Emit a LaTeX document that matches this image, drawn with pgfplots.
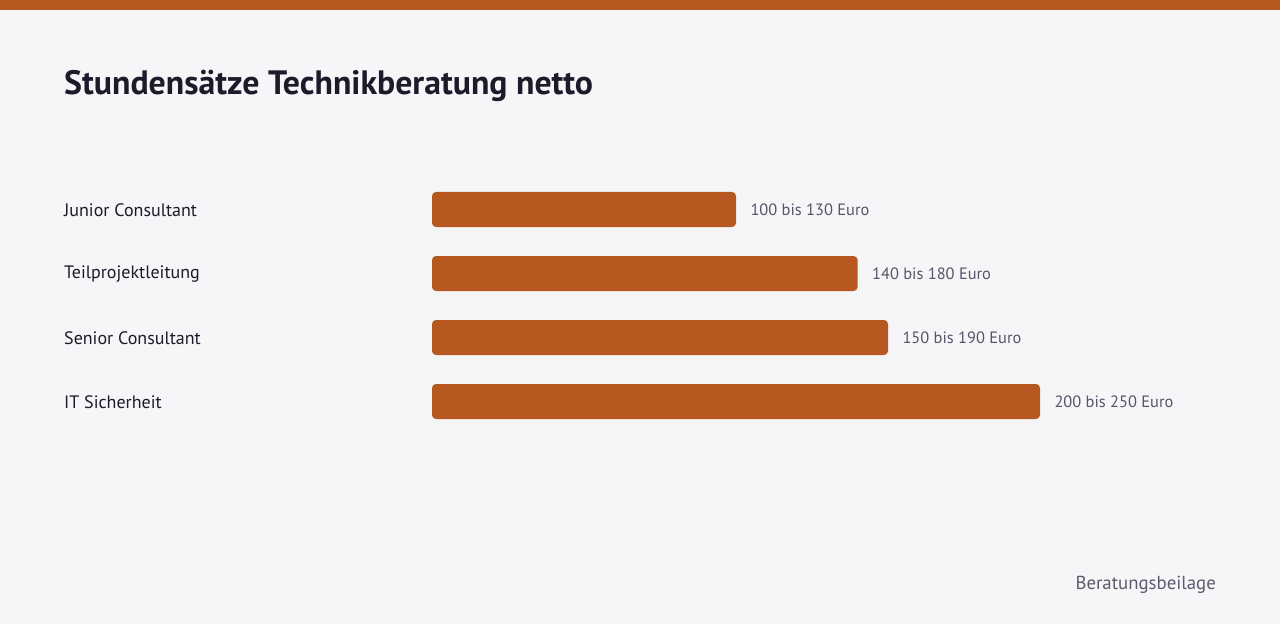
\documentclass[border=0pt]{standalone}
\usepackage{pgfplots}
\pgfplotsset{compat=1.18}
\usepackage{fontspec}
\setmainfont{PT Sans}
\definecolor{bg}{HTML}{F6F6F9}
\definecolor{rust}{HTML}{B6581F}
\definecolor{ink}{HTML}{1C1B29}
\definecolor{grayval}{HTML}{55556A}
\definecolor{grayfoot}{HTML}{5B5B6E}
\begin{document}
\begin{tikzpicture}
% page background and top strip
\fill[bg] (0,0) rectangle (1280bp,624bp);
\fill[rust] (0,614bp) rectangle (1280bp,624bp);
% title
\node[anchor=base west, inner sep=0, text=ink] at (64bp,529bp)
  {\fontsize{33.8bp}{38bp}\selectfont\bfseries Stundensätze Technikberatung netto};
\begin{axis}[
    at={(432bp,190.5bp)}, anchor=south west,
    scale only axis,
    width=760bp, height=256bp,
    xmin=0, xmax=250,
    ymin=-0.5, ymax=3.5,
    y dir=reverse,
    xbar,
    bar width=35bp,
    clip=false,
    axis line style={draw=none},
    major tick length=0pt,
    xtick=\empty,
    ytick={0,1,2,3},
    yticklabels={Junior Consultant,Teilprojektleitung,Senior Consultant,IT Sicherheit},
    yticklabel style={anchor=west, xshift=-368bp, yshift=-1bp, inner sep=0pt, text=ink,
        font=\fontsize{18bp}{21bp}\selectfont},
    point meta=explicit symbolic,
    nodes near coords,
    nodes near coords style={anchor=west, xshift=11bp, text=grayval,
        font=\fontsize{16.4bp}{19bp}\selectfont},
]
\addplot[fill=rust, draw=none, rounded corners=4bp] coordinates {
    (100,0) [100 bis 130 Euro]
    (140,1) [140 bis 180 Euro]
    (150,2) [150 bis 190 Euro]
    (200,3) [200 bis 250 Euro]
};
\end{axis}
% footer
\node[anchor=base east, inner sep=0, text=grayfoot] at (1216bp,35bp)
  {\fontsize{18.8bp}{22bp}\selectfont Beratungsbeilage};
\pgfresetboundingbox
\useasboundingbox (0,0) rectangle (1280bp,624bp);
\end{tikzpicture}
\end{document}
